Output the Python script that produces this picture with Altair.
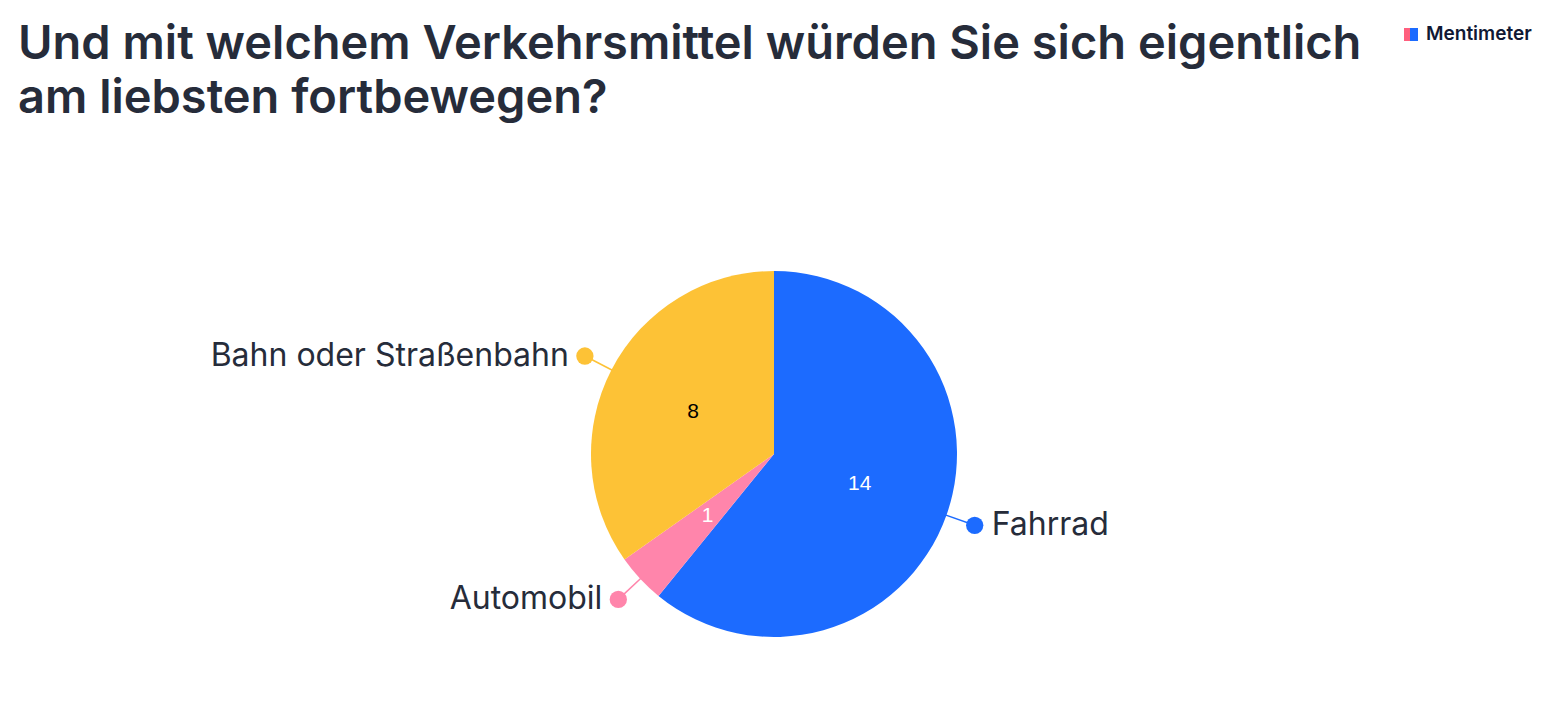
import altair as alt
import pandas as pd

# ---- data ----
categories = ["Fahrrad", "Automobil", "Bahn oder Straßenbahn"]
values = [14, 1, 8]
slice_colors = ["#1c6bff", "#ff85ab", "#fdc236"]
title_lines = ["Und mit welchem Verkehrsmittel würden Sie sich eigentlich",
               "am liebsten fortbewegen?"]
brand = "Mentimeter"

df = pd.DataFrame({"category": categories, "value": values, "order": list(range(len(categories)))})

W, H = 1540, 680
CX, CY = 766, 446
R = 183
R_IN = 91
R_DOT = 213
TEXT_COLOR = "#262c3a"
FONT = "Inter"

color_scale = alt.Scale(domain=categories, range=slice_colors)
base = alt.Chart(df)

pie = base.mark_arc(radius=R, stroke=None).encode(
    theta=alt.Theta("value:Q", stack=True),
    order=alt.Order("order:Q"),
    color=alt.Color("category:N", scale=color_scale, legend=None),
    x=alt.value(CX), y=alt.value(CY),
)

inner = base.mark_text(radius=R_IN, fontSize=21, font="Liberation Sans", baseline="middle").encode(
    theta=alt.Theta("value:Q", stack=True),
    order=alt.Order("order:Q"),
    text=alt.Text("value:Q"),
    color=alt.condition(alt.datum.category == "Bahn oder Straßenbahn", alt.value("black"), alt.value("white")),
    x=alt.value(CX), y=alt.value(CY),
)

geo = base.transform_joinaggregate(total="sum(value)").transform_window(
    cum="sum(value)", sort=[alt.SortField("order")], frame=[None, 0]
).transform_calculate(
    mid="(datum.cum - datum.value/2) / datum.total * 2 * PI"
).transform_calculate(
    ux="sin(datum.mid)", uy="-cos(datum.mid)"
).transform_calculate(
    x0=f"{CX} + {R - 2} * datum.ux", y0=f"{CY} + {R - 2} * datum.uy",
    xd=f"{CX} + {R_DOT} * datum.ux", yd=f"{CY} + {R_DOT} * datum.uy",
).transform_calculate(
    xl_r="datum.xd + 17", xl_l="datum.xd - 16"
)

lines = geo.mark_rule(strokeWidth=1.5).encode(
    x=alt.X("x0:Q", scale=None, axis=None), y=alt.Y("y0:Q", scale=None, axis=None),
    x2="xd:Q", y2="yd:Q",
    color=alt.Color("category:N", scale=color_scale, legend=None),
)

dots = geo.mark_circle(size=300, opacity=1).encode(
    x=alt.X("xd:Q", scale=None, axis=None), y=alt.Y("yd:Q", scale=None, axis=None),
    color=alt.Color("category:N", scale=color_scale, legend=None),
)

label_style = dict(baseline="middle", fontSize=32, font=FONT, color=TEXT_COLOR)
labels_right = geo.transform_filter("datum.ux >= 0").mark_text(align="left", **label_style).encode(
    x=alt.X("xl_r:Q", scale=None, axis=None), y=alt.Y("yd:Q", scale=None, axis=None),
    text="category:N",
)
labels_left = geo.transform_filter("datum.ux < 0").mark_text(align="right", **label_style).encode(
    x=alt.X("xl_l:Q", scale=None, axis=None), y=alt.Y("yd:Q", scale=None, axis=None),
    text="category:N",
)

title_df = pd.DataFrame({"line": title_lines, "i": list(range(len(title_lines)))})
title = alt.Chart(title_df).transform_calculate(ty="51 + 54 * datum.i").mark_text(
    align="left", baseline="alphabetic", fontSize=47, fontWeight=600, font=FONT, color=TEXT_COLOR
).encode(
    x=alt.value(10),
    y=alt.Y("ty:Q", scale=None, axis=None),
    text="line:N",
)

brand_df = pd.DataFrame({"t": [brand]})
brand_text = alt.Chart(brand_df).mark_text(
    align="left", baseline="middle", fontSize=19, fontWeight=600, font=FONT, color="#101834"
).encode(x=alt.value(1418), y=alt.value(26), text="t:N")
icon_a = alt.Chart(brand_df).mark_rect(color="#ff5f7e").encode(
    x=alt.value(1396), x2=alt.value(1402), y=alt.value(20), y2=alt.value(33))
icon_b = alt.Chart(brand_df).mark_rect(color="#1c6bff").encode(
    x=alt.value(1402), x2=alt.value(1410), y=alt.value(20), y2=alt.value(33))

chart = alt.layer(
    pie, inner, lines, dots, labels_right, labels_left, title, brand_text, icon_a, icon_b
).resolve_scale(x="independent", y="independent").properties(
    width=W, height=H, autosize=alt.AutoSizeParams(type="none"), padding=0, background="white"
).configure_view(stroke=None, strokeWidth=0).configure_axis(
    domain=False, grid=False, ticks=False, labels=False
)

chart.save("out.html", embed_options={"renderer": "svg", "actions": False})
